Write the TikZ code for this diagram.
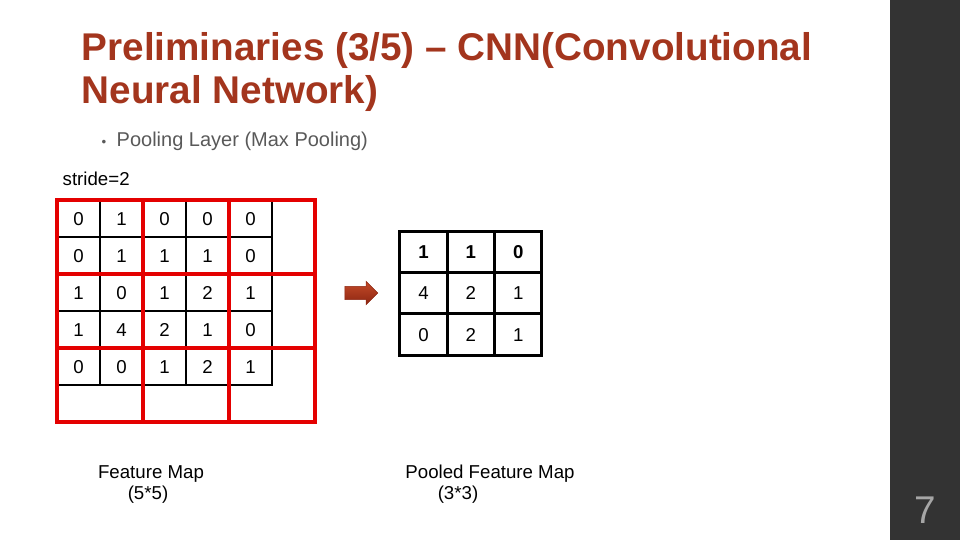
\documentclass[tikz,border=0pt]{standalone}
\usepackage{fontspec}
\setmainfont{Liberation Sans}
\usepackage{tikz}
\usetikzlibrary{positioning}
\usetikzlibrary{shapes,arrows}

\definecolor{titlered}{RGB}{163,53,29}
\definecolor{bulletgray}{RGB}{89,89,89}
\definecolor{winred}{RGB}{228,0,0}
\definecolor{bardark}{RGB}{51,51,51}
\definecolor{arrowtop}{RGB}{196,74,40}
\definecolor{arrowbot}{RGB}{140,38,18}

\tikzset{
	fcell/.style={draw, line width=1.1pt, minimum width=32.25pt, minimum height=27.75pt, inner sep=0pt, outer sep=0pt, text height=10pt, text depth=0pt, font=\fontsize{14}{16}\selectfont},
	pcell/.style={draw, line width=2.25pt, minimum width=35.5pt, minimum height=31pt, inner sep=0pt, outer sep=0pt, text height=10pt, text depth=0pt, font=\fontsize{14}{16}\selectfont},
	window/.style={draw=winred, line width=3pt, minimum width=64.5pt, minimum height=55.5pt, inner sep=0pt},
	caption/.style={font=\fontsize{14}{16}\selectfont}
}

\begin{document}
\begin{tikzpicture}[x=0.75pt, y=-0.75pt, >=latex']
		\useasboundingbox (0,0) rectangle (960,540);

		% Side bar and page number
		\fill [bardark] (890,0) rectangle (960,540);
		\node [text=gray!70, font=\fontsize{29}{31}\selectfont] (pagenum) at (925,510) {7};

		% Title
		\node [anchor=base west, text=titlered, font=\fontsize{29}{31}\bfseries] (title1) at (77,60) {Preliminaries (3/5) -- CNN(Convolutional};
		\node [anchor=base west, text=titlered, font=\fontsize{29}{31}\bfseries] (title2) at (77,103) {Neural Network)};

		% Bullet
		\node [anchor=base west, text=bulletgray, font=\fontsize{10}{12}\selectfont] (bullet) at (97,146) {\textbullet};
		\node [anchor=base west, text=bulletgray, font=\fontsize{15}{17}\selectfont] (pooling) at (112,146) {Pooling Layer (Max Pooling)};

		% Stride
		\node [anchor=base west, caption] (stride) at (58,185) {stride=2};

		% Feature map (5*5)
		\foreach \row [count=\r] in {{0,1,0,0,0},{0,1,1,1,0},{1,0,1,2,1},{1,4,2,1,0},{0,0,1,2,1}}
			\foreach \v [count=\c] in \row
				\node [fcell] (f\r\c) at (35.5+43*\c,181.5+37*\r) {\v};

		% Pooling windows
		\foreach \i in {0,1,2}
			\foreach \j in {0,1,2}
				\node [window] (w\i\j) at (100+86*\j,237+74*\i) {};

		% Arrow
		\node [single arrow, draw=arrowbot, line width=0.4pt, top color=arrowtop, bottom color=arrowbot,
			minimum height=24.75pt, minimum width=17.25pt, inner sep=4.8pt,
			single arrow head extend=3.75pt] (arrow) at (358,293) {};

		% Pooled feature map (3*3)
		\foreach \row [count=\r] in {{\bfseries 1,\bfseries 1,\bfseries 0},{4,2,1},{0,2,1}}
			\foreach \v [count=\c] in \row
				\node [pcell] (p\r\c) at (376.3+47.3*\c,210.3+41.4*\r) {\v};

		% Captions
		\node [caption] (fmap) at (151,474) {Feature Map};
		\node [caption] (fsize) at (148,495) {(5*5)};
		\node [caption] (pmap) at (490,474) {Pooled Feature Map};
		\node [caption] (psize) at (458,495) {(3*3)};
	\end{tikzpicture}
\end{document}
